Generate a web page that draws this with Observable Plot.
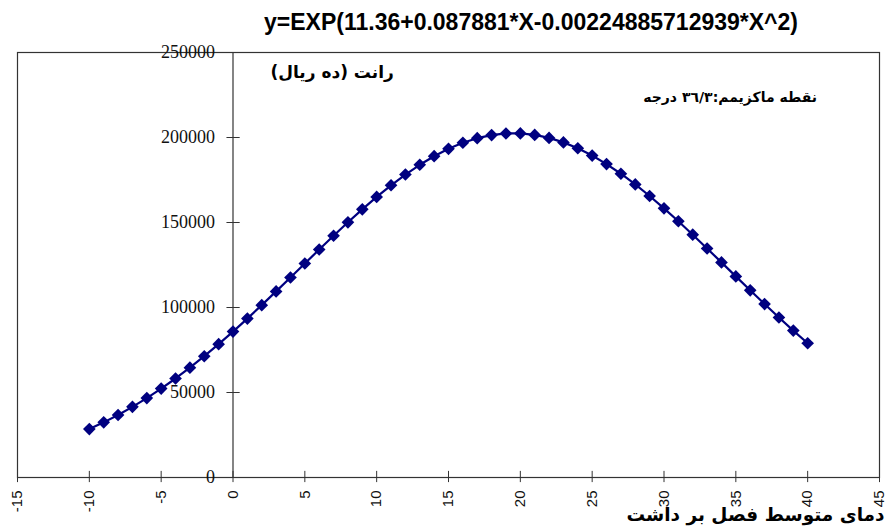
<!DOCTYPE html>
<html><head><meta charset="utf-8">
<script src="https://cdn.jsdelivr.net/npm/d3@7"></script>
<script src="https://cdn.jsdelivr.net/npm/@observablehq/plot@0.6"></script>
<style>
body{margin:0;background:#fff;}
#title{height:42px;width:886px;position:relative;font:bold 23px "Liberation Sans",Arial,sans-serif;color:#000;}
#title span{position:absolute;left:531px;top:22px;transform:translate(-50%,-50%);white-space:nowrap;}
</style></head><body>
<div id="title"><span>y=EXP(11.36+0.087881*X-0.00224885712939*X^2)</span></div>
<div id="chart"></div>
<script>
const temps = [-10,-9,-8,-7,-6,-5,-4,-3,-2,-1,0,1,2,3,4,5,6,7,8,9,10,11,12,13,14,15,16,17,18,19,20,21,22,23,24,25,26,27,28,29,30,31,32,33,34,35,36,37,38,39,40];
const rent = [28461,32432,36792,41549,46712,52280,58249,64610,71343,78423,85820,93492,101394,109470,117658,125891,134097,142198,150108,157748,165037,171885,178213,183946,189010,193343,196887,199597,201436,202380,202415,201542,199772,197129,193649,189375,184366,178682,172398,165588,158332,150715,142823,134734,126534,118299,110106,102020,94100,86408,78990];
const xTicks = [-15,-10,-5,0,5,10,15,20,25,30,35,40,45];
const yTicks = [0,50000,100000,150000,200000,250000];
const yLabel = "رانت (ده ریال)";
const maxNote = "نقطه ماکزیمم:۳٦/۳ درجه";
const xLabel = "دمای متوسط فصل بر داشت";
const notes = [
  {x: 6.9, y: 238500, text: yLabel, size: 17},
  {x: 34.6, y: 223500, text: maxNote, size: 14}
];

const data = temps.map((t, i) => ({t, r: rent[i]}));
const navy = "#000080";

const plot = Plot.plot({
  width: 886,
  height: 487,
  marginLeft: 17,
  marginRight: 7,
  marginTop: 10,
  marginBottom: 52,
  x: {domain: [-15, 45], axis: null},
  y: {domain: [0, 250000], axis: null},
  marks: [
    Plot.frame({stroke: "#333", strokeWidth: 1.2}),
    Plot.ruleX([0], {stroke: "#333", strokeWidth: 1.2}),
    Plot.ruleY(yTicks, {y: d => d, x1: -0.42, x2: 0.5, stroke: "#333"}),
    Plot.ruleX(xTicks, {x: d => d, y1: -3000, y2: 3600, stroke: "#333"}),
    Plot.text(yTicks, {x: 0, y: d => d, text: d => String(d), textAnchor: "end", dx: -18,
      fontFamily: "Liberation Serif, Times New Roman, serif", fontSize: 18, fill: "#111"}),
    Plot.text(xTicks, {x: d => d, y: 0, text: d => String(d), rotate: -90, textAnchor: "end", dy: 13,
      fontFamily: "Liberation Sans, Arial, sans-serif", fontSize: 15, fill: "#111"}),
    Plot.line(data, {x: "t", y: "r", stroke: navy, strokeWidth: 2.2}),
    Plot.dot(data, {x: "t", y: "r", symbol: "diamond2", r: 5.7, fill: navy, stroke: "none"}),
    Plot.text(notes, {x: "x", y: "y", text: "text", fontSize: d => d.size, fontWeight: "bold",
      fontFamily: "DejaVu Sans, Noto Sans, sans-serif", fill: "#000"}),
    Plot.text([xLabel], {frameAnchor: "bottom-right", text: d => d, textAnchor: "middle", dx: -124, dy: 43,
      fontSize: 18.5, fontWeight: "bold", fontFamily: "DejaVu Sans, Noto Sans, sans-serif", fill: "#000"})
  ]
});
d3.select(plot).selectAll("text").filter(function(){ return /[\u0600-\u06FF]/.test(this.textContent); }).attr("direction", "rtl").attr("unicode-bidi", "embed");
document.getElementById("chart").appendChild(plot);
</script>
</body></html>
